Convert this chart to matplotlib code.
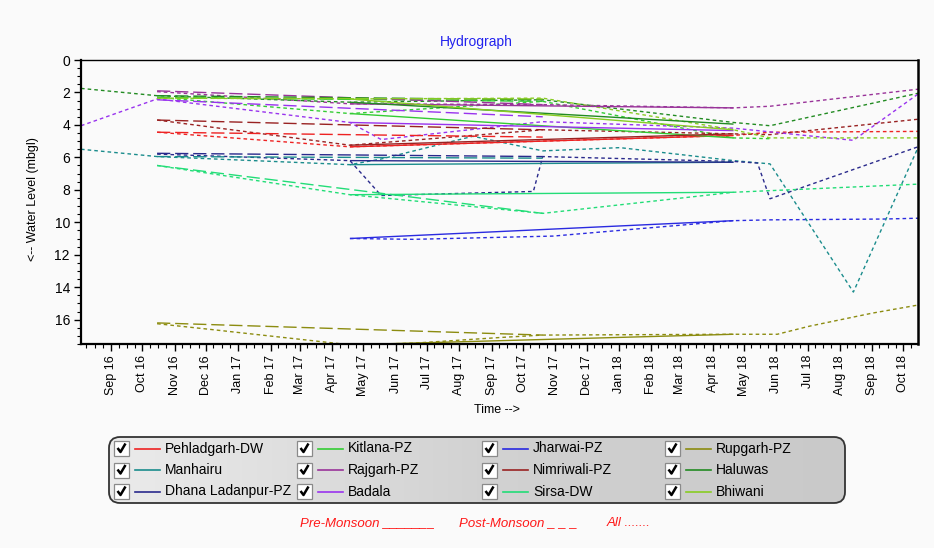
import matplotlib
matplotlib.use("Agg")
import numpy as np
import pandas as pd
import matplotlib.pyplot as plt
import matplotlib.dates as mdates
from matplotlib.patches import FancyBboxPatch, Rectangle

plt.rcParams['font.family'] = ['Liberation Sans', 'DejaVu Sans']

# ---------------- water level readings (mbgl) ----------------
wells = ["Pehladgarh-DW", "Kitlana-PZ", "Jharwai-PZ", "Rupgarh-PZ",
         "Manhairu", "Rajgarh-PZ", "Nimriwali-PZ", "Haluwas",
         "Dhana Ladanpur-PZ", "Badala", "Sirsa-DW", "Bhiwani"]

pehladgarh = {
    "pre":  (["2017-04-18", "2018-04-21"], [5.35, 4.65]),
    "post": (["2016-10-15", "2017-10-20"], [4.45, 4.75]),
    "all":  (["2016-10-15", "2017-04-18", "2017-10-20", "2018-04-21", "2018-05-26", "2018-10-15"],
             [4.45, 5.35, 5.0, 4.65, 4.45, 4.4]),
}
kitlana = {
    "pre":  (["2017-04-18", "2018-04-21"], [3.3, 4.8]),
    "post": (["2016-10-15", "2017-10-20"], [2.3, 2.55]),
    "all":  (["2016-10-15", "2017-04-18", "2017-10-20", "2018-04-21", "2018-05-26"],
             [2.3, 3.3, 2.55, 4.8, 4.85]),
}
jharwai = {
    "pre":  (["2017-04-18", "2018-04-21"], [11.0, 9.9]),
    "post": ([], []),
    "all":  (["2017-04-18", "2017-06-18", "2017-10-30", "2018-04-21", "2018-05-26", "2018-09-12", "2018-10-15"],
             [11.0, 11.05, 10.85, 9.9, 9.85, 9.8, 9.75]),
}
rupgarh = {
    "pre":  (["2017-04-18", "2018-04-21"], [17.55, 16.9]),
    "post": (["2016-10-15", "2017-10-20"], [16.2, 16.95]),
    "all":  (["2016-10-15", "2016-12-05", "2017-04-18", "2017-06-18", "2017-09-09", "2017-10-20",
              "2018-04-21", "2018-06-02", "2018-07-03", "2018-08-02", "2018-09-01", "2018-10-15"],
             [16.25, 16.6, 17.55, 17.45, 17.1, 16.95, 16.9, 16.9, 16.4, 16.0, 15.6, 15.1]),
}
manhairu = {
    "pre":  (["2017-04-18", "2018-04-21"], [6.45, 6.3]),
    "post": (["2016-10-15", "2017-10-20"], [5.95, 6.05]),
    "all":  (["2016-08-03", "2016-10-15", "2017-04-18", "2017-05-18", "2017-08-14", "2017-10-20",
              "2018-01-02", "2018-04-21", "2018-05-26", "2018-08-14", "2018-10-15"],
             [5.5, 5.95, 6.45, 6.1, 4.7, 5.6, 5.4, 6.2, 6.4, 14.3, 5.4]),
}
rajgarh = {
    "pre":  (["2017-04-18", "2018-04-21"], [2.7, 2.95]),
    "post": (["2016-10-15", "2017-10-20"], [1.9, 2.75]),
    "all":  (["2016-10-15", "2017-04-18", "2017-10-20", "2018-04-21", "2018-05-26", "2018-10-15"],
             [1.95, 2.7, 2.75, 2.95, 2.85, 1.8]),
}
nimriwali = {
    "pre":  (["2017-04-18", "2018-04-21"], [5.25, 4.55]),
    "post": (["2016-10-15", "2017-10-20"], [3.7, 4.3]),
    "all":  (["2016-10-15", "2017-04-18", "2017-10-20", "2018-04-21", "2018-05-26", "2018-10-15"],
             [3.7, 5.25, 4.3, 4.55, 4.6, 3.65]),
}
haluwas = {
    "pre":  (["2017-04-18", "2018-04-21"], [2.6, 3.95]),
    "post": (["2016-10-15", "2017-10-20"], [2.2, 2.45]),
    "all":  (["2016-08-03", "2016-10-15", "2017-04-18", "2017-10-20", "2018-04-21", "2018-05-26", "2018-10-15"],
             [1.75, 2.2, 2.6, 2.45, 3.85, 4.05, 2.05]),
}
dhana = {
    "pre":  (["2017-04-18", "2018-04-21"], [6.2, 6.3]),
    "post": (["2016-10-15", "2017-10-20"], [5.75, 5.95]),
    "all":  (["2016-10-15", "2017-04-18", "2017-05-18", "2017-10-11", "2017-10-20",
              "2018-04-21", "2018-05-14", "2018-05-26", "2018-10-15"],
             [5.8, 6.2, 8.35, 8.1, 5.95, 6.25, 6.35, 8.55, 5.35]),
}
badala = {
    "pre":  (["2017-04-18", "2018-04-21"], [3.85, 4.35]),
    "post": (["2016-10-15", "2017-10-20"], [2.45, 3.5]),
    "all":  (["2016-08-03", "2016-10-15", "2017-04-18", "2017-05-18", "2017-10-20",
              "2018-04-21", "2018-08-14", "2018-10-15"],
             [4.05, 2.4, 3.85, 4.9, 3.8, 4.2, 4.95, 2.1]),
}
sirsa = {
    "pre":  (["2017-04-18", "2018-04-21"], [8.3, 8.15]),
    "post": (["2016-10-15", "2017-10-20"], [6.5, 9.45]),
    "all":  (["2016-10-15", "2017-04-18", "2017-10-20", "2018-04-21", "2018-10-15"],
             [6.5, 8.3, 9.45, 8.15, 7.65]),
}
bhiwani = {
    "pre":  (["2017-04-18", "2018-04-21"], [2.4, 4.3]),
    "post": (["2016-10-15", "2017-10-20"], [2.35, 2.4]),
    "all":  (["2016-10-15", "2017-04-18", "2017-10-20", "2018-04-21", "2018-05-26", "2018-10-15"],
             [2.35, 2.4, 2.35, 4.3, 4.8, 4.8]),
}

records = [pehladgarh, kitlana, jharwai, rupgarh, manhairu, rajgarh,
           nimriwali, haluwas, dhana, badala, sirsa, bhiwani]

colors = ["#EE2222", "#33CC33", "#2A2AE0", "#8C8C10",
          "#1A8C8C", "#993399", "#992222", "#228B22",
          "#2A2A8C", "#9933EE", "#22DD77", "#88CC22"]

# ---------------- figure ----------------
W, H = 934, 548
BG = "#FAFAFA"
fig = plt.figure(figsize=(W / 100, H / 100), dpi=100, facecolor=BG)

L, R, T, B = 81, 918, 60, 344
ax = fig.add_axes([L / W, 1 - B / H, (R - L) / W, (B - T) / H])
ax.set_facecolor(BG)

line_styles = {"all": (0, (2.6, 2.2)), "post": (0, (9.5, 3.5)), "pre": "-"}
for kind in ("all", "post", "pre"):
    for rec, col in zip(records, colors):
        d, v = rec[kind]
        if not d:
            continue
        ax.plot(pd.to_datetime(d), v, color=col, lw=1.0, ls=line_styles[kind],
                solid_capstyle="butt", dash_capstyle="butt")

ax.set_xlim(pd.Timestamp("2016-08-03"), pd.Timestamp("2018-10-15"))
ax.set_ylim(17.5, 0)

ax.xaxis.set_major_locator(mdates.MonthLocator())
ax.xaxis.set_major_formatter(mdates.DateFormatter("%b %y"))
ax.xaxis.set_minor_locator(mdates.DayLocator(bymonthday=[8, 16, 24]))
ax.yaxis.set_major_locator(plt.MultipleLocator(2))
ax.yaxis.set_minor_locator(plt.MultipleLocator(0.5))

ax.tick_params(axis="x", which="major", direction="out", length=5, width=1,
               labelsize=9, labelrotation=90, pad=3)
ax.tick_params(axis="x", which="minor", direction="out", length=3, width=0.8)
ax.tick_params(axis="y", which="major", direction="out", length=5, width=1,
               labelsize=10, pad=3)
ax.tick_params(axis="y", which="minor", direction="out", length=3, width=0.8)

for side, lw in (("left", 1.6), ("bottom", 1.6), ("top", 1.0), ("right", 1.8)):
    ax.spines[side].set_color("black")
    ax.spines[side].set_linewidth(lw)

fig.text(476 / W, 1 - 42 / H, "Hydrograph", color="#2222EE", fontsize=10,
         ha="center", va="center")
fig.text(33 / W, 1 - 199 / H, "<-- Water Level (mbgl)", rotation=90,
         fontsize=9, ha="center", va="center")
fig.text(497 / W, 1 - 410 / H, "Time -->", fontsize=9, ha="center", va="center")

# ---------------- legend panel ----------------
lax = fig.add_axes([0, 0, 1, 1])
lax.set_xlim(0, W)
lax.set_ylim(H, 0)
lax.axis("off")

bx0, bx1, by0, by1 = 109, 845, 437, 503
box = FancyBboxPatch((bx0, by0), bx1 - bx0, by1 - by0,
                     boxstyle="round,pad=0,rounding_size=11",
                     facecolor="none", edgecolor="#333333", lw=1.3, zorder=3)
lax.add_patch(box)
grad = np.linspace(0, 1, 256).reshape(1, -1)
from matplotlib.colors import LinearSegmentedColormap
gcmap = LinearSegmentedColormap.from_list("g", ["#EBEBEB", "#D2D2D2", "#C9C9C9"])
im = lax.imshow(grad, extent=(bx0, bx1, by1, by0), aspect="auto", cmap=gcmap, zorder=1)
clip = FancyBboxPatch((bx0, by0), bx1 - bx0, by1 - by0,
                      boxstyle="round,pad=0,rounding_size=11",
                      facecolor="none", edgecolor="none", transform=lax.transData)
im.set_clip_path(clip)
lax.set_xlim(0, W)
lax.set_ylim(H, 0)

col_x = [114, 297, 482, 665]
row_y = [448.5, 470, 491.5]
for i, (name, col) in enumerate(zip(wells, colors)):
    r, c = divmod(i, 4)
    x, y = col_x[c], row_y[r]
    lax.add_patch(Rectangle((x, y - 7.5), 15, 15, facecolor="white",
                            edgecolor="#8A8A8A", lw=0.9, zorder=4))
    lax.plot([x + 3.5, x + 6.5, x + 11.5], [y - 0.5, y + 3.5, y - 5],
             color="black", lw=1.8, zorder=5, solid_capstyle="butt")
    lax.plot([x + 21, x + 46], [y, y], color=col, lw=1.2, zorder=4)
    lax.text(x + 51, y, name, fontsize=10, ha="left", va="center", zorder=5)

red = "#FF1A1A"
lax.text(300, 523, "Pre-Monsoon _______", color=red, fontsize=9.5,
         style="italic", ha="left", va="center")
lax.text(459, 523, "Post-Monsoon _ _ _", color=red, fontsize=9.5,
         style="italic", ha="left", va="center")
lax.text(607, 523, "All .......", color=red, fontsize=9.5,
         style="italic", ha="left", va="center")

fig.savefig("out.png", dpi=100, facecolor=BG)
